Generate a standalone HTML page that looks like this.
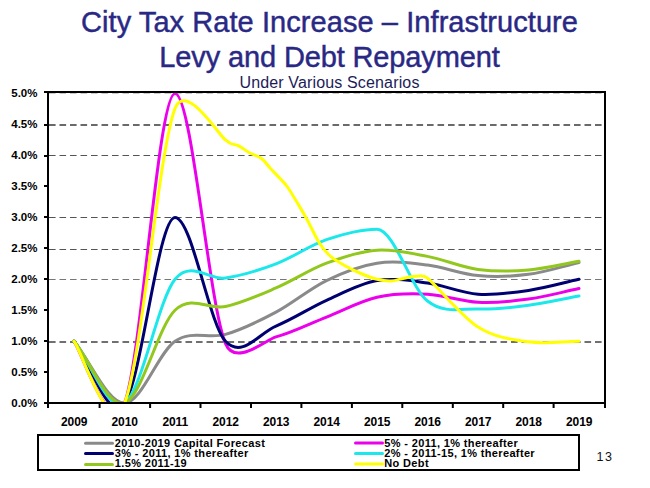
<!DOCTYPE html>
<html><head><meta charset="utf-8"><title>City Tax Rate Increase</title>
<style>
html,body{margin:0;padding:0;background:#fff;}
body{width:650px;height:488px;overflow:hidden;position:relative;font-family:"Liberation Sans",sans-serif;}
svg{position:absolute;left:0;top:0;}
</style></head><body>
<svg width="650" height="488" viewBox="0 0 650 488" font-family='"Liberation Sans", sans-serif'>
<rect x="0" y="0" width="650" height="488" fill="#fff"/>

<text x="329.5" y="32" text-anchor="middle" font-size="29" letter-spacing="0.07" fill="#292985" stroke="#292985" stroke-width="0.45">City Tax Rate Increase – Infrastructure</text>
<text x="329.5" y="67" text-anchor="middle" font-size="29" letter-spacing="-0.13" fill="#292985" stroke="#292985" stroke-width="0.45">Levy and Debt Repayment</text>
<text x="329.5" y="87.9" text-anchor="middle" font-size="16" letter-spacing="0.15" fill="#1c1c58">Under Various Scenarios</text>
<line x1="49" x2="604" y1="125.0" y2="125.0" stroke="#6a6a6a" stroke-width="2" stroke-dasharray="6.6 3.9" stroke-dashoffset="0"/>
<line x1="49" x2="604" y1="155.5" y2="155.5" stroke="#555" stroke-width="1" stroke-dasharray="6.6 3.9" stroke-dashoffset="0"/>
<line x1="49" x2="604" y1="217.5" y2="217.5" stroke="#555" stroke-width="1" stroke-dasharray="6.6 3.9" stroke-dashoffset="0"/>
<line x1="49" x2="604" y1="249.5" y2="249.5" stroke="#555" stroke-width="1" stroke-dasharray="6.6 3.9" stroke-dashoffset="0"/>
<line x1="49" x2="604" y1="279.5" y2="279.5" stroke="#777" stroke-width="1" stroke-dasharray="6.6 3.9" stroke-dashoffset="0"/>
<line x1="49" x2="604" y1="342.0" y2="342.0" stroke="#707070" stroke-width="2" stroke-dasharray="6.6 3.9" stroke-dashoffset="0"/>
<line x1="49" x2="604" y1="93.5" y2="93.5" stroke="#c8c8c8" stroke-width="1" stroke-dasharray="6.6 3.9" stroke-dashoffset="0"/>
<defs><clipPath id="pc"><rect x="49" y="93" width="555" height="309"/></clipPath></defs>
<g clip-path="url(#pc)" fill="none" stroke-width="3" stroke-linejoin="round" stroke-linecap="round">
<path d="M74.00,341.20 C90.83,361.83 107.67,403.10 124.50,403.10 C141.33,403.10 158.17,352.65 175.00,341.20 C191.83,329.75 208.67,339.24 225.50,334.39 C242.33,329.54 259.17,321.08 276.00,312.11 C292.83,303.13 309.67,288.69 326.50,280.54 C343.33,272.39 360.17,265.79 377.00,263.21 C393.83,260.63 410.67,263.00 427.50,265.06 C444.33,267.13 461.17,274.04 478.00,275.59 C494.83,277.13 511.67,276.51 528.50,274.35 C545.33,272.18 562.17,266.51 579.00,262.59" stroke="#8a8a8a"/>
<path d="M74.00,341.20 C81.54,350.45 109.41,440.08 124.50,403.10 C141.33,361.83 158.17,93.60 175.00,93.60 C191.83,93.60 208.67,303.13 225.50,343.68 C235.27,367.21 266.23,339.44 276.00,336.87 C292.83,332.43 309.67,323.66 326.50,317.06 C343.33,310.46 360.17,301.07 377.00,297.25 C393.83,293.43 410.67,293.33 427.50,294.16 C444.33,294.98 461.17,301.38 478.00,302.20 C494.83,303.03 511.67,301.38 528.50,299.11 C545.33,296.84 562.17,292.09 579.00,288.59" stroke="#EC00EC"/>
<path d="M74.00,341.20 C90.83,361.83 107.67,423.73 124.50,403.10 C141.33,382.47 158.17,217.40 175.00,217.40 C191.83,217.40 208.67,323.09 225.50,341.20 C242.33,359.31 259.17,332.84 276.00,326.03 C292.83,319.23 309.67,307.93 326.50,300.35 C343.33,292.76 360.17,283.43 377.00,280.54 C393.83,277.65 410.67,280.74 427.50,283.01 C444.33,285.28 461.17,292.92 478.00,294.16 C494.83,295.39 511.67,292.92 528.50,290.44 C545.33,287.97 562.17,283.01 579.00,279.30" stroke="#000070"/>
<path d="M74.00,341.20 C90.83,361.83 107.67,413.42 124.50,403.10 C141.33,392.78 158.17,300.14 175.00,279.30 C190.87,259.65 209.63,280.49 225.50,278.06 C242.33,275.48 259.17,270.22 276.00,263.83 C292.83,257.43 309.67,245.46 326.50,239.68 C343.33,233.91 360.17,229.16 377.00,229.16 C393.83,229.16 410.67,287.66 427.50,300.97 C444.33,314.27 461.17,308.29 478.00,309.01 C494.83,309.73 511.67,307.46 528.50,305.30 C545.33,303.13 562.17,299.11 579.00,296.01" stroke="#1CE8EC"/>
<path d="M74.00,341.20 C90.83,361.83 107.67,408.26 124.50,403.10 C141.33,397.94 158.17,326.34 175.00,310.25 C191.83,294.16 208.67,310.25 225.50,306.54 C242.33,302.82 259.17,295.19 276.00,287.97 C292.83,280.74 309.67,269.50 326.50,263.21 C343.33,256.91 360.17,251.34 377.00,250.21 C393.83,249.07 410.67,253.20 427.50,256.40 C444.33,259.60 461.17,267.13 478.00,269.40 C494.83,271.67 511.67,271.36 528.50,270.02 C545.33,268.67 562.17,264.24 579.00,261.35" stroke="#92C81E"/>
<path d="M74.00,341.20 C81.95,350.95 108.60,439.74 124.50,403.10 C141.33,364.31 158.17,152.30 175.00,108.46 C185.67,80.66 219.62,136.32 225.50,140.03 C228.11,141.67 229.98,143.22 230.60,143.50 C232.82,144.48 235.73,144.40 238.80,145.90 C241.87,147.40 245.22,150.40 249.00,152.50 C252.78,154.60 257.92,155.83 261.50,158.50 C265.08,161.17 267.37,165.12 270.50,168.50 C273.63,171.88 277.47,175.72 280.30,178.80 C283.13,181.88 284.62,182.92 287.50,187.00 C290.38,191.08 294.37,197.93 297.60,203.30 C300.83,208.67 303.35,212.72 306.90,219.20 C310.45,225.68 315.12,236.15 318.90,242.20 C322.68,248.25 325.25,251.57 329.60,255.50 C333.95,259.43 339.60,262.72 345.00,265.80 C350.40,268.88 356.67,271.75 362.00,274.00 C367.33,276.25 372.20,278.13 377.00,279.30 C381.80,280.47 386.30,281.18 390.80,281.00 C395.30,280.82 399.80,278.98 404.00,278.20 C408.20,277.42 412.08,276.32 416.00,276.30 C417.71,276.29 423.00,274.38 427.50,278.06 C437.83,286.51 461.17,316.34 478.00,326.96 C494.83,337.59 511.67,339.45 528.50,341.82 C545.33,344.19 562.17,341.41 579.00,341.20" stroke="#FFFF00"/>
</g>
<rect x="48" y="92" width="557" height="311" fill="none" stroke="#000" stroke-width="2"/>
<rect x="44" y="402" width="4" height="2" fill="#000"/>
<text x="37.5" y="406.9" text-anchor="end" font-size="11.5" font-weight="bold" letter-spacing="0" fill="#000">0.0%</text>
<rect x="44" y="371" width="4" height="2" fill="#000"/>
<text x="37.5" y="376.0" text-anchor="end" font-size="11.5" font-weight="bold" letter-spacing="0" fill="#000">0.5%</text>
<rect x="44" y="340" width="4" height="2" fill="#000"/>
<text x="37.5" y="345.0" text-anchor="end" font-size="11.5" font-weight="bold" letter-spacing="0" fill="#000">1.0%</text>
<rect x="44" y="309" width="4" height="2" fill="#000"/>
<text x="37.5" y="314.1" text-anchor="end" font-size="11.5" font-weight="bold" letter-spacing="0" fill="#000">1.5%</text>
<rect x="44" y="278" width="4" height="2" fill="#000"/>
<text x="37.5" y="283.1" text-anchor="end" font-size="11.5" font-weight="bold" letter-spacing="0" fill="#000">2.0%</text>
<rect x="44" y="247" width="4" height="2" fill="#000"/>
<text x="37.5" y="252.2" text-anchor="end" font-size="11.5" font-weight="bold" letter-spacing="0" fill="#000">2.5%</text>
<rect x="44" y="216" width="4" height="2" fill="#000"/>
<text x="37.5" y="221.2" text-anchor="end" font-size="11.5" font-weight="bold" letter-spacing="0" fill="#000">3.0%</text>
<rect x="44" y="185" width="4" height="2" fill="#000"/>
<text x="37.5" y="190.3" text-anchor="end" font-size="11.5" font-weight="bold" letter-spacing="0" fill="#000">3.5%</text>
<rect x="44" y="155" width="4" height="2" fill="#000"/>
<text x="37.5" y="159.3" text-anchor="end" font-size="11.5" font-weight="bold" letter-spacing="0" fill="#000">4.0%</text>
<rect x="44" y="124" width="4" height="2" fill="#000"/>
<text x="37.5" y="128.4" text-anchor="end" font-size="11.5" font-weight="bold" letter-spacing="0" fill="#000">4.5%</text>
<rect x="44" y="91" width="4" height="2" fill="#000"/>
<text x="37.5" y="97.4" text-anchor="end" font-size="11.5" font-weight="bold" letter-spacing="0" fill="#000">5.0%</text>
<rect x="47.0" y="403" width="2" height="5" fill="#000"/>
<rect x="98.6" y="403" width="2" height="5" fill="#000"/>
<rect x="149.1" y="403" width="2" height="5" fill="#000"/>
<rect x="199.5" y="403" width="2" height="5" fill="#000"/>
<rect x="250.0" y="403" width="2" height="5" fill="#000"/>
<rect x="300.4" y="403" width="2" height="5" fill="#000"/>
<rect x="350.9" y="403" width="2" height="5" fill="#000"/>
<rect x="401.3" y="403" width="2" height="5" fill="#000"/>
<rect x="451.8" y="403" width="2" height="5" fill="#000"/>
<rect x="502.2" y="403" width="2" height="5" fill="#000"/>
<rect x="552.6" y="403" width="2" height="5" fill="#000"/>
<rect x="604.0" y="403" width="2" height="5" fill="#000"/>
<text x="74.2" y="425.8" text-anchor="middle" font-size="12" font-weight="bold" letter-spacing="-0.1" fill="#000">2009</text>
<text x="124.7" y="425.8" text-anchor="middle" font-size="12" font-weight="bold" letter-spacing="-0.1" fill="#000">2010</text>
<text x="175.2" y="425.8" text-anchor="middle" font-size="12" font-weight="bold" letter-spacing="-0.1" fill="#000">2011</text>
<text x="225.7" y="425.8" text-anchor="middle" font-size="12" font-weight="bold" letter-spacing="-0.1" fill="#000">2012</text>
<text x="276.2" y="425.8" text-anchor="middle" font-size="12" font-weight="bold" letter-spacing="-0.1" fill="#000">2013</text>
<text x="326.7" y="425.8" text-anchor="middle" font-size="12" font-weight="bold" letter-spacing="-0.1" fill="#000">2014</text>
<text x="377.2" y="425.8" text-anchor="middle" font-size="12" font-weight="bold" letter-spacing="-0.1" fill="#000">2015</text>
<text x="427.7" y="425.8" text-anchor="middle" font-size="12" font-weight="bold" letter-spacing="-0.1" fill="#000">2016</text>
<text x="478.2" y="425.8" text-anchor="middle" font-size="12" font-weight="bold" letter-spacing="-0.1" fill="#000">2017</text>
<text x="528.7" y="425.8" text-anchor="middle" font-size="12" font-weight="bold" letter-spacing="-0.1" fill="#000">2018</text>
<text x="579.2" y="425.8" text-anchor="middle" font-size="12" font-weight="bold" letter-spacing="-0.1" fill="#000">2019</text>
<rect x="38" y="435" width="541" height="35" fill="none" stroke="#000" stroke-width="2"/>
<line x1="85.5" x2="112.5" y1="443.3" y2="443.3" stroke="#8a8a8a" stroke-width="3" stroke-linecap="round"/>
<text x="114.8" y="446.6" font-size="11" font-weight="bold" letter-spacing="0.35" fill="#000">2010-2019 Capital Forecast</text>
<line x1="85.5" x2="112.5" y1="453.4" y2="453.4" stroke="#000070" stroke-width="3" stroke-linecap="round"/>
<text x="114.8" y="456.8" font-size="11" font-weight="bold" letter-spacing="0.35" fill="#000">3% - 2011, 1% thereafter</text>
<line x1="85.5" x2="112.5" y1="464.4" y2="464.4" stroke="#92C81E" stroke-width="3" stroke-linecap="round"/>
<text x="114.8" y="467.0" font-size="11" font-weight="bold" letter-spacing="0.35" fill="#000">1.5% 2011-19</text>
<line x1="355.5" x2="382.5" y1="443.0" y2="443.0" stroke="#EC00EC" stroke-width="3" stroke-linecap="round"/>
<text x="384.3" y="446.6" font-size="11" font-weight="bold" letter-spacing="0.35" fill="#000">5% - 2011, 1% thereafter</text>
<line x1="355.5" x2="382.5" y1="453.4" y2="453.4" stroke="#1CE8EC" stroke-width="3" stroke-linecap="round"/>
<text x="384.3" y="456.8" font-size="11" font-weight="bold" letter-spacing="0.35" fill="#000">2% - 2011-15, 1% thereafter</text>
<line x1="355.5" x2="382.5" y1="464.0" y2="464.0" stroke="#FFFF00" stroke-width="3" stroke-linecap="round"/>
<text x="384.3" y="467.0" font-size="11" font-weight="bold" letter-spacing="0.35" fill="#000">No Debt</text>
<text x="596.5" y="461" font-size="12.5" letter-spacing="1.5" fill="#111">13</text>
</svg></body></html>
